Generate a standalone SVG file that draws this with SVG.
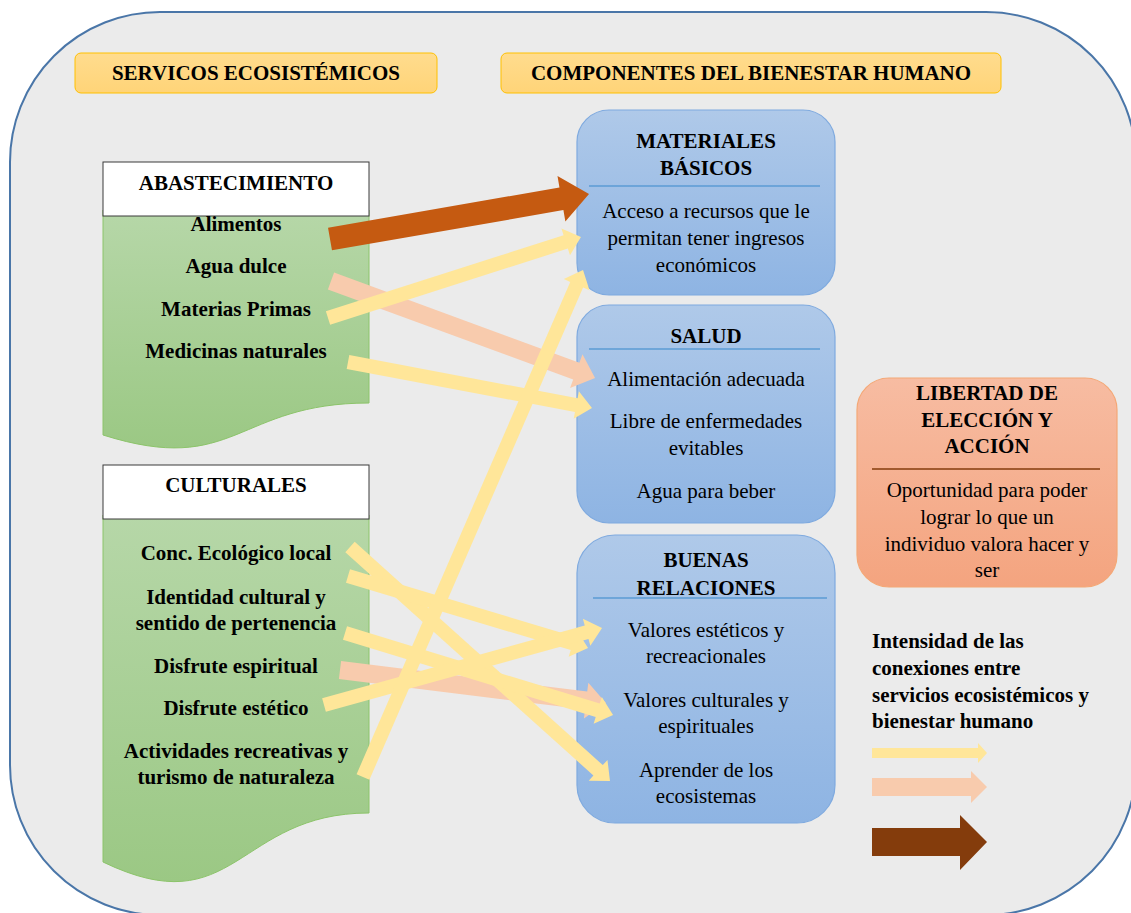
<svg xmlns="http://www.w3.org/2000/svg" width="1131" height="913" viewBox="0 0 1131 913">
<defs>
<linearGradient id="gGreen" x1="0" y1="0" x2="0" y2="1"><stop offset="0" stop-color="#B6D7A8"/><stop offset="1" stop-color="#9BC884"/></linearGradient>
<linearGradient id="gBlue" x1="0" y1="0" x2="0" y2="1"><stop offset="0" stop-color="#AFC9E9"/><stop offset="1" stop-color="#8EB4E3"/></linearGradient>
<linearGradient id="gHead" x1="0" y1="0" x2="0" y2="1"><stop offset="0" stop-color="#FFDC8E"/><stop offset="1" stop-color="#FFD478"/></linearGradient>
<linearGradient id="gSalmon" x1="0" y1="0" x2="0" y2="1"><stop offset="0" stop-color="#F7BCA2"/><stop offset="1" stop-color="#F4A47F"/></linearGradient>
</defs>
<style>
text{font-family:"Liberation Serif","Times New Roman",serif;font-size:21px;fill:#000}
.b{font-weight:bold}
.c{text-anchor:middle}
.hdr{fill:url(#gHead);stroke:#FFC000;stroke-width:1}
.wbox{fill:#FFFFFF;stroke:#3A3A3A;stroke-width:1}
.doc{fill:url(#gGreen);stroke:#8CC46A;stroke-width:1}
.blue{fill:url(#gBlue);stroke:#7FAADF;stroke-width:1.2}
.sep{stroke:#5B9BD5;stroke-width:1.5}
.y{fill:#FFE699}
.p{fill:#F8CBAD}
.br{fill:#C55A11}
</style>
<rect x="10" y="12" width="1126" height="903" rx="150" ry="150" fill="#EBEBEB" stroke="#4A76A8" stroke-width="2"/>

<g id="hdr-servicios">
<rect class="hdr" x="75" y="53" width="362" height="40" rx="6"/>
<text class="b c" x="256" y="80">SERVICOS ECOSISTÉMICOS</text>
</g>
<g id="hdr-componentes">
<rect class="hdr" x="501" y="53" width="500" height="40" rx="6"/>
<text class="b c" x="751" y="80">COMPONENTES DEL BIENESTAR HUMANO</text>
</g>

<g id="abastecimiento">
<path class="doc" d="M103,210 H369 V403 C236,403 236,477 103,435 Z"/>
<rect class="wbox" x="103" y="162" width="266" height="54"/>
<text class="b c" x="236" y="190">ABASTECIMIENTO</text>
<text class="b c" x="236" y="231">Alimentos</text>
<text class="b c" x="236" y="273">Agua dulce</text>
<text class="b c" x="236" y="316">Materias Primas</text>
<text class="b c" x="236" y="358">Medicinas naturales</text>
</g>

<g id="culturales">
<path class="doc" d="M103,515 H369 V813 C236,813 236,926 103,862 Z"/>
<rect class="wbox" x="103" y="465" width="266" height="54"/>
<text class="b c" x="236" y="492">CULTURALES</text>
<text class="b c" x="236" y="560">Conc. Ecológico local</text>
<text class="b c" x="236" y="604">Identidad cultural y</text>
<text class="b c" x="236" y="630">sentido de pertenencia</text>
<text class="b c" x="236" y="673">Disfrute espiritual</text>
<text class="b c" x="236" y="715">Disfrute estético</text>
<text class="b c" x="236" y="758">Actividades recreativas y</text>
<text class="b c" x="236" y="784">turismo de naturaleza</text>
</g>

<g id="materiales">
<rect class="blue" x="577" y="110" width="258" height="185" rx="32"/>
<text class="b c" x="706" y="148">MATERIALES</text>
<text class="b c" x="706" y="175">BÁSICOS</text>
<line class="sep" x1="589" y1="186" x2="820" y2="186"/>
<text class="c" x="706" y="218">Acceso a recursos que le</text>
<text class="c" x="706" y="245">permitan tener ingresos</text>
<text class="c" x="706" y="272">económicos</text>
</g>

<g id="salud">
<rect class="blue" x="577" y="305" width="258" height="218" rx="32"/>
<text class="b c" x="706" y="343">SALUD</text>
<line class="sep" x1="589" y1="349" x2="820" y2="349"/>
<text class="c" x="706" y="386">Alimentación adecuada</text>
<text class="c" x="706" y="428">Libre de enfermedades</text>
<text class="c" x="706" y="455">evitables</text>
<text class="c" x="706" y="498">Agua para beber</text>
</g>

<g id="buenas-relaciones">
<rect class="blue" x="577" y="535" width="258" height="288" rx="38"/>
<text class="b c" x="706" y="567">BUENAS</text>
<text class="b c" x="706" y="595">RELACIONES</text>
<line class="sep" x1="593" y1="598" x2="827" y2="598"/>
<text class="c" x="706" y="637">Valores estéticos y</text>
<text class="c" x="706" y="663">recreacionales</text>
<text class="c" x="706" y="707">Valores culturales y</text>
<text class="c" x="706" y="733">espirituales</text>
<text class="c" x="706" y="777">Aprender de los</text>
<text class="c" x="706" y="803">ecosistemas</text>
</g>

<g id="libertad">
<rect x="857" y="378" width="260" height="209" rx="32" fill="url(#gSalmon)" stroke="#F4A877" stroke-width="1.2"/>
<text class="b c" x="987" y="400">LIBERTAD DE</text>
<text class="b c" x="987" y="427">ELECCIÓN Y</text>
<text class="b c" x="987" y="453">ACCIÓN</text>
<line x1="872" y1="469" x2="1100" y2="469" stroke="#843C0C" stroke-width="1.5"/>
<text class="c" x="987" y="497">Oportunidad para poder</text>
<text class="c" x="987" y="524">lograr lo que un</text>
<text class="c" x="987" y="551">individuo valora hacer y</text>
<text class="c" x="987" y="577">ser</text>
</g>

<g id="leyenda">
<text class="b" x="872" y="648">Intensidad de las</text>
<text class="b" x="872" y="675">conexiones entre</text>
<text class="b" x="872" y="702">servicios ecosistémicos y</text>
<text class="b" x="872" y="728">bienestar humano</text>
<polygon class="y" points="872,748 978,748 978,743 987,753 978,763 978,758 872,758"/>
<polygon class="p" points="872,778 971,778 971,771 987,787 971,803 971,796 872,796"/>
<polygon fill="#843C0C" points="872,828 960,828 960,815 987,842 960,870 960,856 872,856"/>
</g>

<g id="connectors">
<polygon class="p" transform="translate(331,281) rotate(20.17)" points="0,-9 261.3,-9 261.3,-18 281.3,0 261.3,18 261.3,9 0,9"/>
<polygon class="p" transform="translate(340,670) rotate(7.07)" points="0,-9 248,-9 248,-18 268,0 248,18 248,9 0,9"/>
<polygon class="y" transform="translate(328,318) rotate(-17.75)" points="0,-7 249.6,-7 249.6,-14 265.6,0 249.6,14 249.6,7 0,7"/>
<polygon class="y" transform="translate(348,362) rotate(10.68)" points="0,-7 232.3,-7 232.3,-14 248.3,0 232.3,14 232.3,7 0,7"/>
<polygon class="y" transform="translate(350,547) rotate(41.99)" points="0,-7 333.8,-7 333.8,-14 349.8,0 333.8,14 333.8,7 0,7"/>
<polygon class="y" transform="translate(348,576) rotate(16.70)" points="0,-7 234.6,-7 234.6,-14 250.6,0 234.6,14 234.6,7 0,7"/>
<polygon class="y" transform="translate(345,633) rotate(17.01)" points="0,-7 264.3,-7 264.3,-14 280.3,0 264.3,14 264.3,7 0,7"/>
<polygon class="y" transform="translate(324,705) rotate(-15.48)" points="0,-7 272.5,-7 272.5,-14 288.5,0 272.5,14 272.5,7 0,7"/>
<polygon class="y" transform="translate(363,777) rotate(-66.54)" points="0,-7 536.7,-7 536.7,-14 552.7,0 536.7,14 536.7,7 0,7"/>
<polygon class="br" transform="translate(330,239) rotate(-9.86)" points="0,-11.5 234.9,-11.5 234.9,-23 262.9,0 234.9,23 234.9,11.5 0,11.5"/>
</g>
</svg>
